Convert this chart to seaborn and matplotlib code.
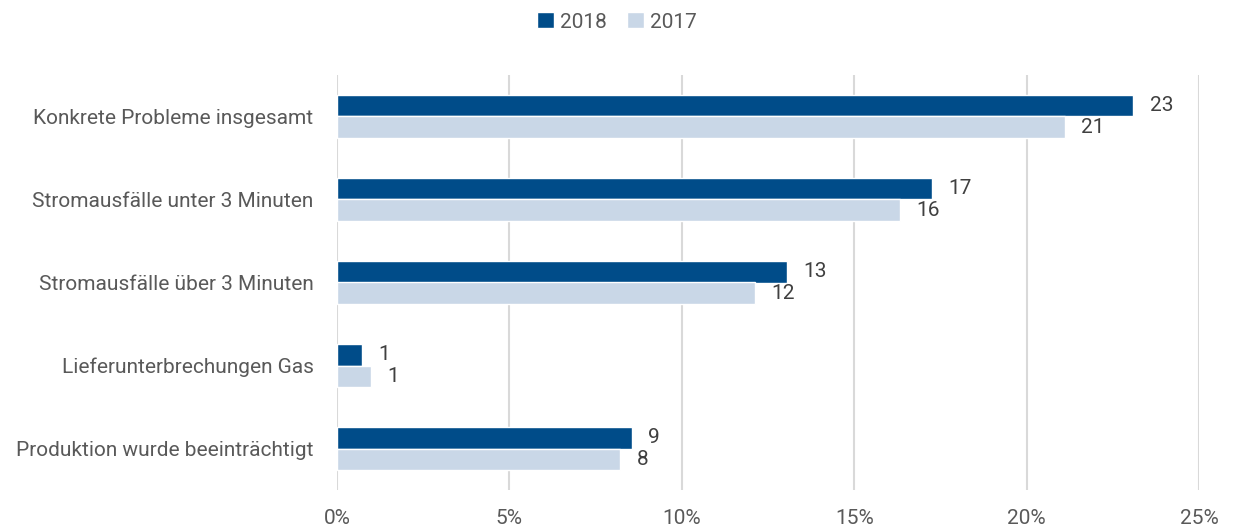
import matplotlib
matplotlib.use("Agg")
import matplotlib.pyplot as plt
import pandas as pd
import seaborn as sns

categories = [
    "Konkrete Probleme insgesamt",
    "Stromausfälle unter 3 Minuten",
    "Stromausfälle über 3 Minuten",
    "Lieferunterbrechungen Gas",
    "Produktion wurde beeinträchtigt",
]
years = ["2018", "2017"]
values_2018 = [23.1, 17.25, 13.05, 0.72, 8.55]
values_2017 = [21.1, 16.33, 12.12, 0.98, 8.2]
labels_2018 = [23, 17, 13, 1, 9]
labels_2017 = [21, 16, 12, 1, 8]
xticks = [0, 5, 10, 15, 20, 25]

colors = {"2018": "#004C89", "2017": "#C9D7E7"}
text_col = "#595959"

df = pd.DataFrame({
    "category": categories * 2,
    "year": ["2018"] * len(categories) + ["2017"] * len(categories),
    "value": values_2018 + values_2017,
})

sns.set_style("white")
plt.rcParams["font.family"] = ["Roboto", "DejaVu Sans"]

fig = plt.figure(figsize=(12.34, 5.31), dpi=100)
ax = fig.add_axes([337 / 1234, 1 - 490 / 531, (1199 - 337) / 1234, (490 - 75) / 531])

sns.barplot(data=df, y="category", x="value", hue="year", hue_order=years,
            palette=colors, orient="h", width=0.53, ax=ax, legend=True,
            saturation=1)

for cont, labs in zip(ax.containers, [labels_2018, labels_2017]):
    ax.bar_label(cont, labels=[str(v) for v in labs], padding=12,
                 fontsize=15, color="#404040")

ax.set_xlim(0, 25)
ax.set_ylim(4.5, -0.5)
ax.set_xticks(xticks)
ax.set_xticklabels([f"{t}%" for t in xticks], fontsize=15, color=text_col)
ax.tick_params(axis="x", length=0, pad=14)
ax.tick_params(axis="y", length=0, pad=17, labelsize=15, labelcolor=text_col)
ax.xaxis.grid(True, color="#D9D9D9", linewidth=1.5)
ax.set_axisbelow(True)
for s in ax.spines.values():
    s.set_visible(False)
ax.set_xlabel("")
ax.set_ylabel("")

# legend centred above the plot, near the top of the figure
leg = ax.legend(loc="center", bbox_to_anchor=(617 / 1234, 1 - 22 / 531),
                bbox_transform=fig.transFigure, ncol=2, frameon=False,
                handlelength=0.8, handleheight=0.8, handletextpad=0.3,
                columnspacing=1.0, fontsize=15)
for t in leg.get_texts():
    t.set_color(text_col)

fig.savefig("out.png", dpi=100)
